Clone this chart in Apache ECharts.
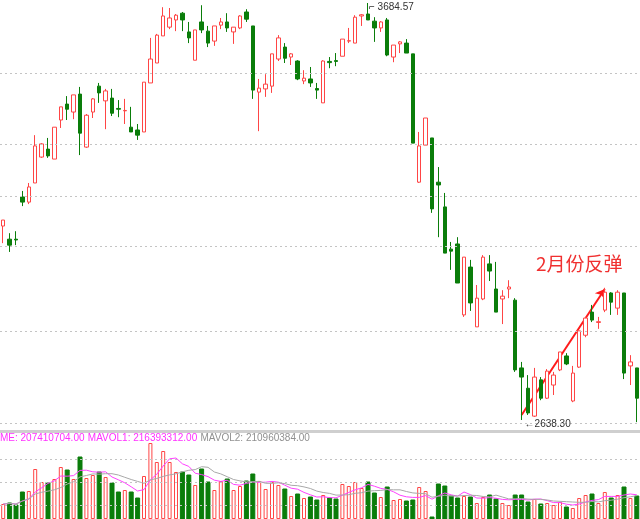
<!DOCTYPE html>
<html><head><meta charset="utf-8">
<script src="https://cdn.jsdelivr.net/npm/echarts@6/dist/echarts.min.js"></script>
<style>html,body{margin:0;padding:0;background:#fff}#c{width:640px;height:519px}</style>
</head><body><div id="c"></div>
<script>
// [open, close, low, high]
const candles = [
[3125,3140,3082,3140],[3092,3077,3060,3107],[3092,3090,3077,3112],[3198,3185,3175,3213],[3185,3223,3180,3233],
[3233,3326,3233,3353],[3298,3331,3296,3333],[3318,3301,3296,3346],[3293,3373,3293,3373],[3391,3424,3371,3424],
[3431,3418,3391,3451],[3411,3454,3393,3454],[3456,3358,3303,3474],[3323,3403,3321,3406],[3411,3444,3396,3446],
[3476,3459,3434,3484],[3439,3464,3368,3469],[3446,3408,3401,3469],[3420,3418,3398,3441],[3414,3415,3381,3444],
[3373,3361,3361,3424],[3366,3353,3341,3381],[3361,3486,3361,3486],[3484,3544,3484,3597],[3534,3604,3534,3607],
[3602,3652,3602,3674],[3624,3647,3619,3672],[3642,3654,3614,3657],[3659,3642,3614,3662],[3612,3597,3584,3637],
[3541,3617,3541,3617],[3637,3617,3609,3679],[3614,3584,3574,3627],[3589,3627,3577,3627],[3629,3637,3619,3647],
[3637,3622,3612,3659],[3612,3624,3582,3624],[3622,3652,3619,3654],[3662,3644,3637,3669],[3627,3466,3444,3627],
[3461,3471,3363,3494],[3469,3481,3449,3506],[3476,3557,3459,3557],[3544,3597,3539,3604],[3574,3546,3534,3584],
[3549,3557,3529,3559],[3539,3494,3491,3541],[3489,3496,3481,3516],[3494,3484,3474,3524],[3470,3466,3444,3484],
[3434,3539,3434,3541],[3538,3535,3521,3549],[3540,3538,3526,3559],[3551,3594,3551,3594],[3589,3590,3584,3622],
[3584,3649,3584,3654],[3652,3655,3627,3657],[3657,3642,3642,3684.57],[3639,3622,3587,3649],[3622,3637,3612,3639],
[3642,3554,3551,3647],[3549,3579,3536,3579],[3582,3587,3559,3589],[3584,3559,3559,3594],[3557,3333,3333,3557],
[3235,3326,3233,3361],[3328,3396,3328,3396],[3346,3168,3158,3346],[3235,3228,3097,3273],[3173,3057,3057,3208],
[3067,3062,3015,3085],[3080,2982,2982,3097],[2902,3047,2897,3047],[3022,2932,2912,3040],[2872,2944,2872,2977],
[2942,3047,2939,3052],[3030,3012,2987,3052],[2967,2909,2909,3035],[2942,2949,2879,2964],[2967,2972,2944,2989],
[2939,2764,2759,2944],[2769,2746,2638.3,2784],[2718,2656,2651,2751],[2648,2746,2646,2769],[2739,2693,2688,2746],
[2693,2761,2691,2766],[2726,2751,2701,2759],[2764,2809,2761,2809],[2799,2779,2776,2806],[2686,2756,2683,2774],
[2771,2862,2769,2862],[2851,2894,2846,2897],[2909,2889,2884,2927],[2883,2885,2867,2897],[2914,2959,2909,2970],
[2957,2934,2902,2959],[2919,2959,2902,2964],[2957,2756,2741,2957],[2774,2784,2726,2801],[2769,2693,2633,2769]
];
// volume, millions
const volumes = [135,144,126,243,252,450,333,324,360,468,441,360,558,369,396,423,378,324,243,261,243,189,387,684,513,
612,513,423,423,396,306,450,333,261,342,360,261,297,342,405,342,270,333,306,270,207,225,189,198,171,
216,189,180,315,297,333,279,333,234,198,288,171,180,162,171,288,252,18,315,297,207,189,207,198,144,
198,216,180,144,126,216,216,153,180,135,144,126,153,108,99,189,216,225,144,243,189,216,288,189,207];
const priceGridLines = [3509,3331,3200,3075,2862,2631];
const volGridLines = [540,333,126];
const highLabel = {idx:57, value:3684.57, text:'3684.57'};
const lowLabel = {idx:81, value:2638.30, text:'2638.30'};
const rebound = {text:'2月份反弹', from:[81,2651], to:[94,2967], at:[90,3030]};
const legendText = ['ME: 207410704.00','MAVOL1: 216393312.00','MAVOL2: 210960384.00'];

const cats = candles.map((_, i) => i);
function ma(n){return volumes.map((_,i)=>{const s=Math.max(0,i-n+1);let t=0;for(let j=s;j<=i;j++)t+=volumes[j];return +(t/(i-s+1)).toFixed(1);});}
const RED='#ff4545', GREEN='#0a7d0a';
const dotted = {color:'#c4c4c4', type:[2,3], width:1};
const volData = volumes.map((v,i)=>{const up=candles[i][1]>=candles[i][0];
  return {value:v,itemStyle:up?{color:'#fff',borderColor:RED,borderWidth:1}:{color:GREEN,borderColor:GREEN}};});

const chart = echarts.init(document.getElementById('c'));
chart.setOption({
  animation:false,
  grid:[{left:-3.2,right:-1.8,top:0,height:431},{left:-3.2,right:-1.8,top:433,bottom:0}],
  xAxis:[
    {type:'category',data:cats,gridIndex:0,axisLine:{lineStyle:{color:'#cfcfcf',width:3}},axisTick:{show:false},axisLabel:{show:false}},
    {type:'category',data:cats,gridIndex:1,axisLine:{show:false},axisTick:{show:false},axisLabel:{show:false}}
  ],
  yAxis:[
    {type:'value',gridIndex:0,min:2610.7,max:3692.1,splitLine:{show:false},axisLabel:{show:false},axisLine:{show:false},axisTick:{show:false}},
    {type:'value',gridIndex:1,min:0,max:774,splitLine:{show:false},axisLabel:{show:false},axisLine:{show:false},axisTick:{show:false}}
  ],
  series:[
    {type:'candlestick',data:candles,barWidth:4,xAxisIndex:0,yAxisIndex:0,
     itemStyle:{color:'#fff',color0:GREEN,borderColor:RED,borderColor0:GREEN,borderWidth:1},
     markLine:{silent:true,symbol:'none',label:{show:false},lineStyle:dotted,data:priceGridLines.map(v=>({yAxis:v}))},
     markPoint:{silent:true,symbol:'circle',symbolSize:0,data:[
       {coord:[highLabel.idx,highLabel.value],label:{show:true,position:'right',offset:[-4,4],formatter:'⌐ '+highLabel.text,color:'#333',fontSize:10,fontFamily:'Liberation Sans'}},
       {coord:[lowLabel.idx,lowLabel.value],label:{show:true,position:'right',offset:[-2,4],formatter:'←'+lowLabel.text,color:'#333',fontSize:10,fontFamily:'Liberation Sans'}},
       {coord:rebound.at,label:{show:true,position:'inside',formatter:rebound.text,color:'#f03030',fontSize:19,fontFamily:'Noto Sans CJK SC'}}
     ]}
    },
    {type:'lines',coordinateSystem:'cartesian2d',xAxisIndex:0,yAxisIndex:0,silent:true,
     symbol:['none','arrow'],symbolSize:9,lineStyle:{color:'#ff1a1a',width:2,opacity:1},
     data:[{coords:[rebound.from,rebound.to]}]},
    {type:'bar',data:volData,barWidth:4,xAxisIndex:1,yAxisIndex:1,
     markLine:{silent:true,symbol:'none',label:{show:false},lineStyle:dotted,data:volGridLines.map(v=>({yAxis:v}))}},
    {type:'line',data:ma(5),xAxisIndex:1,yAxisIndex:1,symbol:'none',lineStyle:{color:'#ff40ff',width:1}},
    {type:'line',data:ma(10),xAxisIndex:1,yAxisIndex:1,symbol:'none',lineStyle:{color:'#a8a8a8',width:1}}
  ],
  graphic:[{type:'text',left:0,top:432,style:{
    text:'{a|'+legendText[0]+'} {a|'+legendText[1]+'} {b|'+legendText[2]+'}',
    rich:{a:{fill:'#ff30ff',fontSize:10,fontFamily:'Liberation Sans'},b:{fill:'#909090',fontSize:10,fontFamily:'Liberation Sans'}}}}]
});
</script></body></html>
